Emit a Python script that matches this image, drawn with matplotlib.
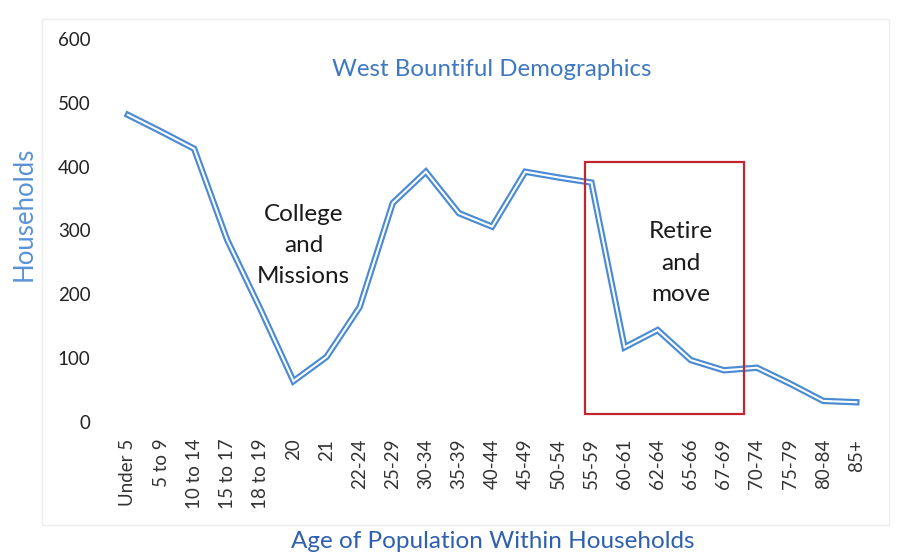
import matplotlib.pyplot as plt
from matplotlib.patches import Rectangle

# age groups and household counts
age_groups = ["Under 5", "5 to 9", "10 to 14", "15 to 17", "18 to 19", "20", "21",
              "22-24", "25-29", "30-34", "35-39", "40-44", "45-49", "50-54",
              "55-59", "60-61", "62-64", "65-66", "67-69", "70-74", "75-79",
              "80-84", "85+"]
households = [481, 455, 428, 285, 177, 64, 102, 180, 343, 392, 327, 306, 392,
              383, 375, 117, 144, 97, 81, 85, 60, 33, 31]
y_ticks = [0, 100, 200, 300, 400, 500, 600]

LINE = "#4a8bd3"
FONT = ["Lato", "DejaVu Sans"]
plt.rcParams["font.family"] = FONT

fig = plt.figure(figsize=(8.98, 5.56), dpi=100)
ax = fig.add_axes([0.124, 0.241, 0.848, 0.689])

x = list(range(len(age_groups)))
# double line look: thick blue with a thin white core
ax.plot(x, households, color=LINE, lw=4.6, solid_joinstyle="miter", zorder=3)
ax.plot(x, households, color="white", lw=1.5, solid_joinstyle="miter", zorder=4)

ax.set_xlim(-0.5, len(age_groups) - 0.5)
ax.set_ylim(0, 600)
ax.set_yticks(y_ticks)
ax.set_xticks(x)
ax.set_xticklabels(age_groups, rotation=90, fontsize=13.5, color="#333333")
ax.tick_params(axis="y", labelsize=13.5, labelcolor="#222222", length=0, pad=15)
ax.tick_params(axis="x", length=0, pad=12)
for s in ax.spines.values():
    s.set_visible(False)

# retirement box
ax.add_patch(Rectangle((13.8, 12), 4.8, 395, fill=False, edgecolor="#c3262e",
                       lw=1.6, zorder=5))

ax.text(11.0, 552, "West Bountiful Demographics", ha="center", va="center",
        fontsize=17.3, color="#3f78c2")
ax.text(5.3, 276, "College\nand\nMissions", ha="center", va="center",
        fontsize=17.5, color="#1a1a1a", linespacing=1.6)
ax.text(16.7, 249, "Retire\nand\nmove", ha="center", va="center",
        fontsize=17.5, color="#1a1a1a", linespacing=1.6)

fig.text(0.027, 1 - 214 / 556, "Households", rotation=90, ha="center",
         va="center", fontsize=18.5, color="#5a93d6")
fig.text(0.549, 1 - 541 / 556, "Age of Population Within Households", ha="center",
         va="center", fontsize=17.5, color="#2f60b0")

# faint chart-area frame like the scanned original
fig.add_artist(Rectangle((0.047, 0.055), 0.943, 0.91, transform=fig.transFigure,
                         fill=False, edgecolor="#eeeeee", lw=1.0))

fig.savefig("out.png", dpi=100)
